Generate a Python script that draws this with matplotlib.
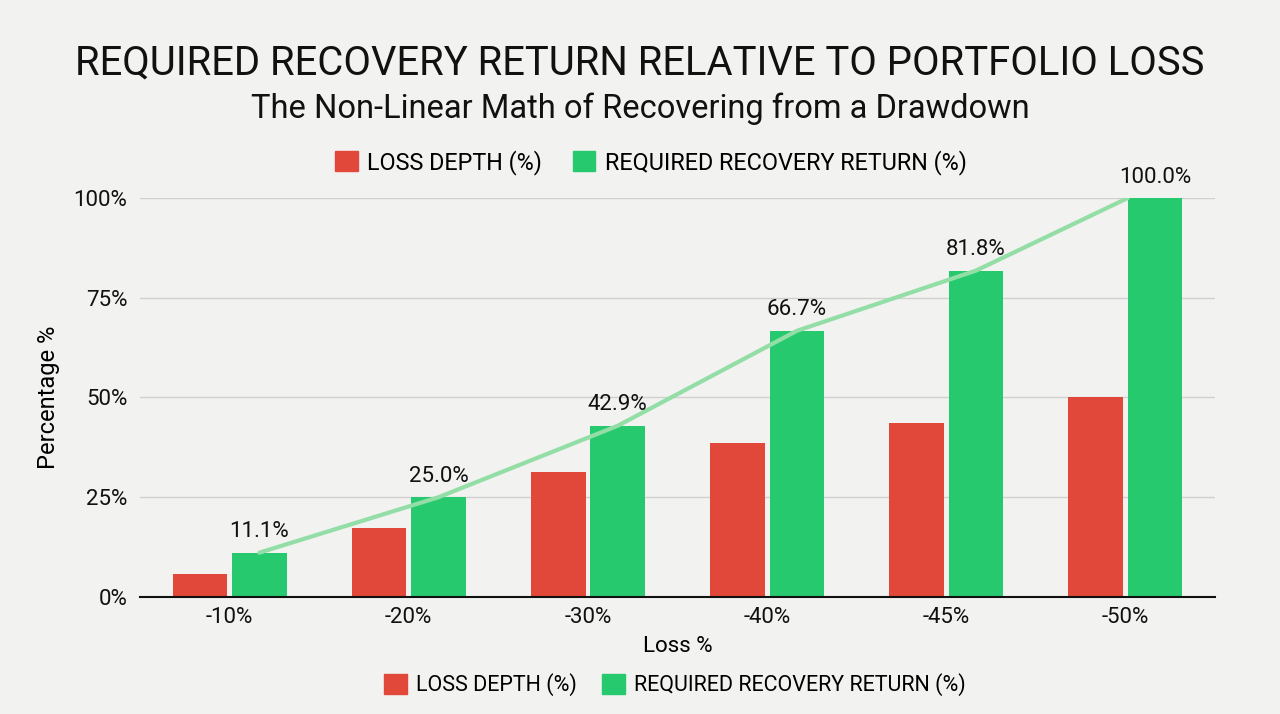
import numpy as np
import matplotlib.pyplot as plt
from matplotlib.patches import Patch

plt.rcParams['font.family'] = ['Roboto', 'DejaVu Sans']

categories = ['-10%', '-20%', '-30%', '-40%', '-45%', '-50%']
loss_depth = [5.8, 17.4, 31.4, 38.5, 43.7, 50.0]
recovery = [11.1, 25.0, 42.9, 66.7, 81.8, 100.0]
recovery_labels = ['11.1%', '25.0%', '42.9%', '66.7%', '81.8%', '100.0%']
y_ticks = [0, 25, 50, 75, 100]

red = '#e2483a'
green = '#27c96f'
line_green = '#93dea6'
bg = '#f2f2f0'

fig = plt.figure(figsize=(12.8, 7.14), dpi=100, facecolor=bg)
ax = fig.add_axes([0.1094, 0.1639, 0.8398, 0.5588], facecolor=bg)

x = np.arange(len(categories))
w = 0.305
off = 0.166
ax.bar(x - off, loss_depth, w, color=red, zorder=2)
ax.bar(x + off, recovery, w, color=green, zorder=2)

# trend line runs over the green bars, ending at the left edge of the last one
line_x = x + off
line_x = np.append(line_x[:-1], x[-1] + off - w / 2)
ax.plot(line_x, recovery, color=line_green, lw=3, zorder=3, solid_capstyle='round')

for xi, v, lab in zip(x, recovery, recovery_labels):
    ax.text(xi + off, v + 2.6, lab, ha='center', va='bottom', fontsize=16, color='#111111', zorder=4)

ax.set_xlim(-0.5, 5.5)
ax.set_ylim(0, 100)
ax.set_yticks(y_ticks)
ax.set_yticklabels([f'{t}%' for t in y_ticks])
ax.set_xticks(x)
ax.set_xticklabels(categories)
ax.tick_params(axis='both', length=0, labelsize=16, colors='#111111')
ax.tick_params(axis='x', pad=7)
ax.tick_params(axis='y', pad=9)
ax.grid(axis='y', color='#d0d0d0', lw=1, zorder=0)
for s in ['top', 'right', 'left']:
    ax.spines[s].set_visible(False)
ax.spines['bottom'].set_color('#111111')
ax.spines['bottom'].set_linewidth(1.5)

ax.set_xlabel('Loss %', fontsize=16, labelpad=6)
ax.set_ylabel('Percentage %', fontsize=17, labelpad=10)

fig.text(0.5, 0.912, 'REQUIRED RECOVERY RETURN RELATIVE TO PORTFOLIO LOSS', ha='center', va='center',
         fontsize=28.8, color='#111111')
fig.text(0.5, 0.848, 'The Non-Linear Math of Recovering from a Drawdown', ha='center', va='center',
         fontsize=23.5, color='#111111')

handles = [Patch(color=red, label='LOSS DEPTH (%)'), Patch(color=green, label='REQUIRED RECOVERY RETURN (%)')]
fig.legend(handles=handles, loc='center', bbox_to_anchor=(0.5086, 0.773), ncol=2, frameon=False,
           fontsize=16.8, handlelength=0.95, handleheight=0.95, columnspacing=1.35, handletextpad=0.4)
fig.legend(handles=handles, loc='center', bbox_to_anchor=(0.5273, 0.041), ncol=2, frameon=False,
           fontsize=15.5, handlelength=1.05, handleheight=1.05, columnspacing=1.2, handletextpad=0.4)

fig.savefig('out.png', dpi=100, facecolor=bg)
